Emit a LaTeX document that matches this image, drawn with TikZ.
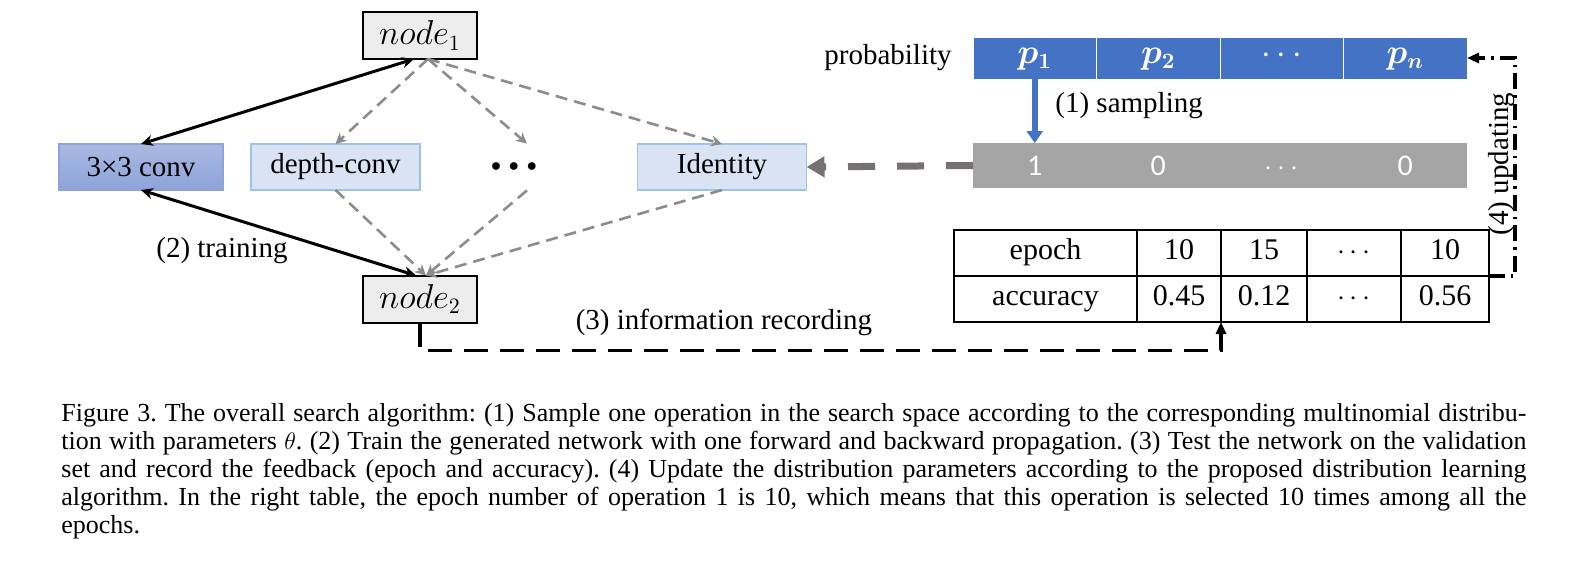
\documentclass[tikz,border=0pt]{standalone}
\usepackage{fontspec}
\setmainfont{Liberation Serif}
\newfontfamily\calibri{Carlito}
\usepackage{bm}
\usepackage{tikz}
\usetikzlibrary{calc}
\usetikzlibrary{positioning}
\usetikzlibrary{arrows, arrows.meta}

\definecolor{nodegray}{HTML}{EDEDED}
\definecolor{lightfill}{HTML}{DAE3F3}
\definecolor{lightedge}{HTML}{9DC3E6}
\definecolor{convtop}{HTML}{AAB9E3}
\definecolor{convbottom}{HTML}{8DA3D9}
\definecolor{opblue}{HTML}{4472C4}
\definecolor{sampled}{HTML}{A5A5A5}
\definecolor{choicegray}{HTML}{8C8C8C}
\definecolor{pickgray}{HTML}{767171}

\tikzset{
	opbox/.style={draw=lightedge, fill=lightfill, line width=0.6pt, outer sep=0pt,
		minimum width=84.5pt, minimum height=23pt, font=\fontsize{14.5}{17}\selectfont},
	nodebox/.style={draw=black, fill=nodegray, line width=1pt, outer sep=0pt,
		minimum width=57pt, minimum height=23.5pt, font=\fontsize{16}{18}\selectfont},
	pcell/.style={draw=white, fill=opblue, line width=0.5pt, outer sep=0pt, inner sep=0pt,
		minimum width=61.75pt, minimum height=21pt, text=white,
		text height=8pt, text depth=3pt, font=\fontsize{16}{18}\selectfont},
	gcell/.style={fill=sampled, outer sep=0pt, inner sep=0pt,
		minimum width=61.75pt, minimum height=22.5pt, text=white,
		text height=10pt, text depth=0pt, font=\calibri\fontsize{15}{18}\selectfont},
	tcell/.style={draw=black, line width=0.6pt, outer sep=0pt, inner sep=0pt,
		minimum height=23pt, text height=10pt, text depth=3.5pt,
		font=\fontsize{15}{18}\selectfont},
	lbl/.style={inner sep=0pt, font=\fontsize{14.5}{17}\selectfont},
	train/.style={line width=1.5pt, black,
		{Stealth[length=6pt, width=5.5pt]}-{Stealth[length=6pt, width=5.5pt]}},
	choice/.style={line width=1.3pt, choicegray, dash pattern=on 6pt off 3.5pt,
		-{Stealth[length=5.5pt, width=5.5pt]}},
	pick/.style={line width=3.5pt, pickgray, dash pattern=on 13.5pt off 11pt,
		-{Triangle[length=9pt, width=10pt]}},
	sample/.style={line width=3pt, opblue, -{Triangle[length=6pt, width=8pt]}},
	record/.style={line width=1.6pt, black, dash pattern=on 12pt off 6pt,
		-{Triangle[length=6pt, width=5pt]}},
	update/.style={line width=1.6pt, black, dash pattern=on 8pt off 3pt on 1.2pt off 3pt,
		-{Triangle[length=6pt, width=5pt]}}
}

\begin{document}
\begin{tikzpicture}[x=0.5pt, y=-0.5pt]

\useasboundingbox (0,0) rectangle (1590,574);

% search space
\node[nodebox] (n1) at (420,35.5) {$node_1$};
\node[nodebox] (n2) at (420,299) {$node_2$};

\node[opbox, draw=convbottom, top color=convtop, bottom color=convbottom,
	minimum width=82pt] (conv) at (141,167) {3×3 conv};
\node[opbox] (dconv) at (335.5,167) {depth-conv};
\node[inner sep=0pt, minimum width=28pt, minimum height=23pt] (dots) at (514,167)
	{$\bullet\,\bullet\,\bullet$};
\node[opbox] (idn) at (722,167) {Identity};

\draw[train] (conv.north) -- ([xshift=-3pt]n1.south);
\draw[train] (conv.south) -- ([xshift=-2pt]n2.north);
\node[lbl] (trainlbl) at (222,251) {(2) training};

\draw[choice] ([xshift=4pt]n1.south) -- (dconv.north);
\draw[choice] ([xshift=4pt]n1.south) -- ([xshift=6.5pt]dots.north);
\draw[choice] ([xshift=4pt]n1.south) -- (idn.north);
\draw[choice] (dconv.south) -- ([xshift=3pt]n2.north);
\draw[choice] ([xshift=6.5pt]dots.south) -- ([xshift=3pt]n2.north);
\draw[choice] (idn.south) -- ([xshift=3pt]n2.north);

% distribution
\node[lbl] (problbl) at (888,58) {probability};
\node[pcell] (p1) at (1034.75,58) {$\bm{p_1}$};
\node[pcell, right=0pt of p1] (p2) {$\bm{p_2}$};
\node[pcell, right=0pt of p2] (p3) {$\cdots$};
\node[pcell, right=0pt of p3] (p4) {$\bm{p_n}$};

\node[gcell] (g1) at (1034.75,165.5) {1};
\node[gcell, right=0pt of g1] (g2) {0};
\node[gcell, right=0pt of g2] (g3) {$\cdots$};
\node[gcell, right=0pt of g3] (g4) {0};

\draw[sample] (p1.south) -- (g1.north);
\node[lbl, anchor=west] (samplbl) at (1055,106) {(1) sampling};
\draw[pick] (g1.west) -- (idn.east);

% feedback table
\node[tcell, minimum width=91.5pt] (e1) at (1045.5,253) {epoch};
\node[tcell, minimum width=42pt, right=0pt of e1] (e2) {10};
\node[tcell, minimum width=43pt, right=0pt of e2] (e3) {15};
\node[tcell, minimum width=47pt, right=0pt of e3] (e4) {$\cdots$};
\node[tcell, minimum width=44pt, right=0pt of e4] (e5) {10};
\node[tcell, minimum width=91.5pt, below=0pt of e1] (a1) {accuracy};
\node[tcell, minimum width=42pt, right=0pt of a1] (a2) {0.45};
\node[tcell, minimum width=43pt, right=0pt of a2] (a3) {0.12};
\node[tcell, minimum width=47pt, right=0pt of a3] (a4) {$\cdots$};
\node[tcell, minimum width=44pt, right=0pt of a4] (a5) {0.56};

\draw[record] (n2.south) -- ++(0,28) -| (a3.south west);
\node[lbl] (reclbl) at (724,322) {(3) information recording};

\draw[update] (e5.south east) -- ++(26,0) |- (p4.east);
\node[lbl, rotate=90] (updlbl) at (1502,164) {(4) updating};

% caption
\node[anchor=north west, inner sep=0pt, text width=732.5pt, align=justify,
	font=\fontsize{13}{14}\selectfont\frenchspacing] (caption) at (61,403)
	{Figure 3. The overall search algorithm: (1) Sample one operation in the search space according to the corresponding multinomial distribu-\linebreak
	tion with parameters $\theta$. (2) Train the generated network with one forward and backward propagation. (3) Test the network on the validation\linebreak
	set and record the feedback (epoch and accuracy). (4) Update the distribution parameters according to the proposed distribution learning\linebreak
	algorithm. In the right table, the epoch number of operation 1 is 10, which means that this operation is selected 10 times among all the\linebreak
	epochs.};

\end{tikzpicture}
\end{document}
